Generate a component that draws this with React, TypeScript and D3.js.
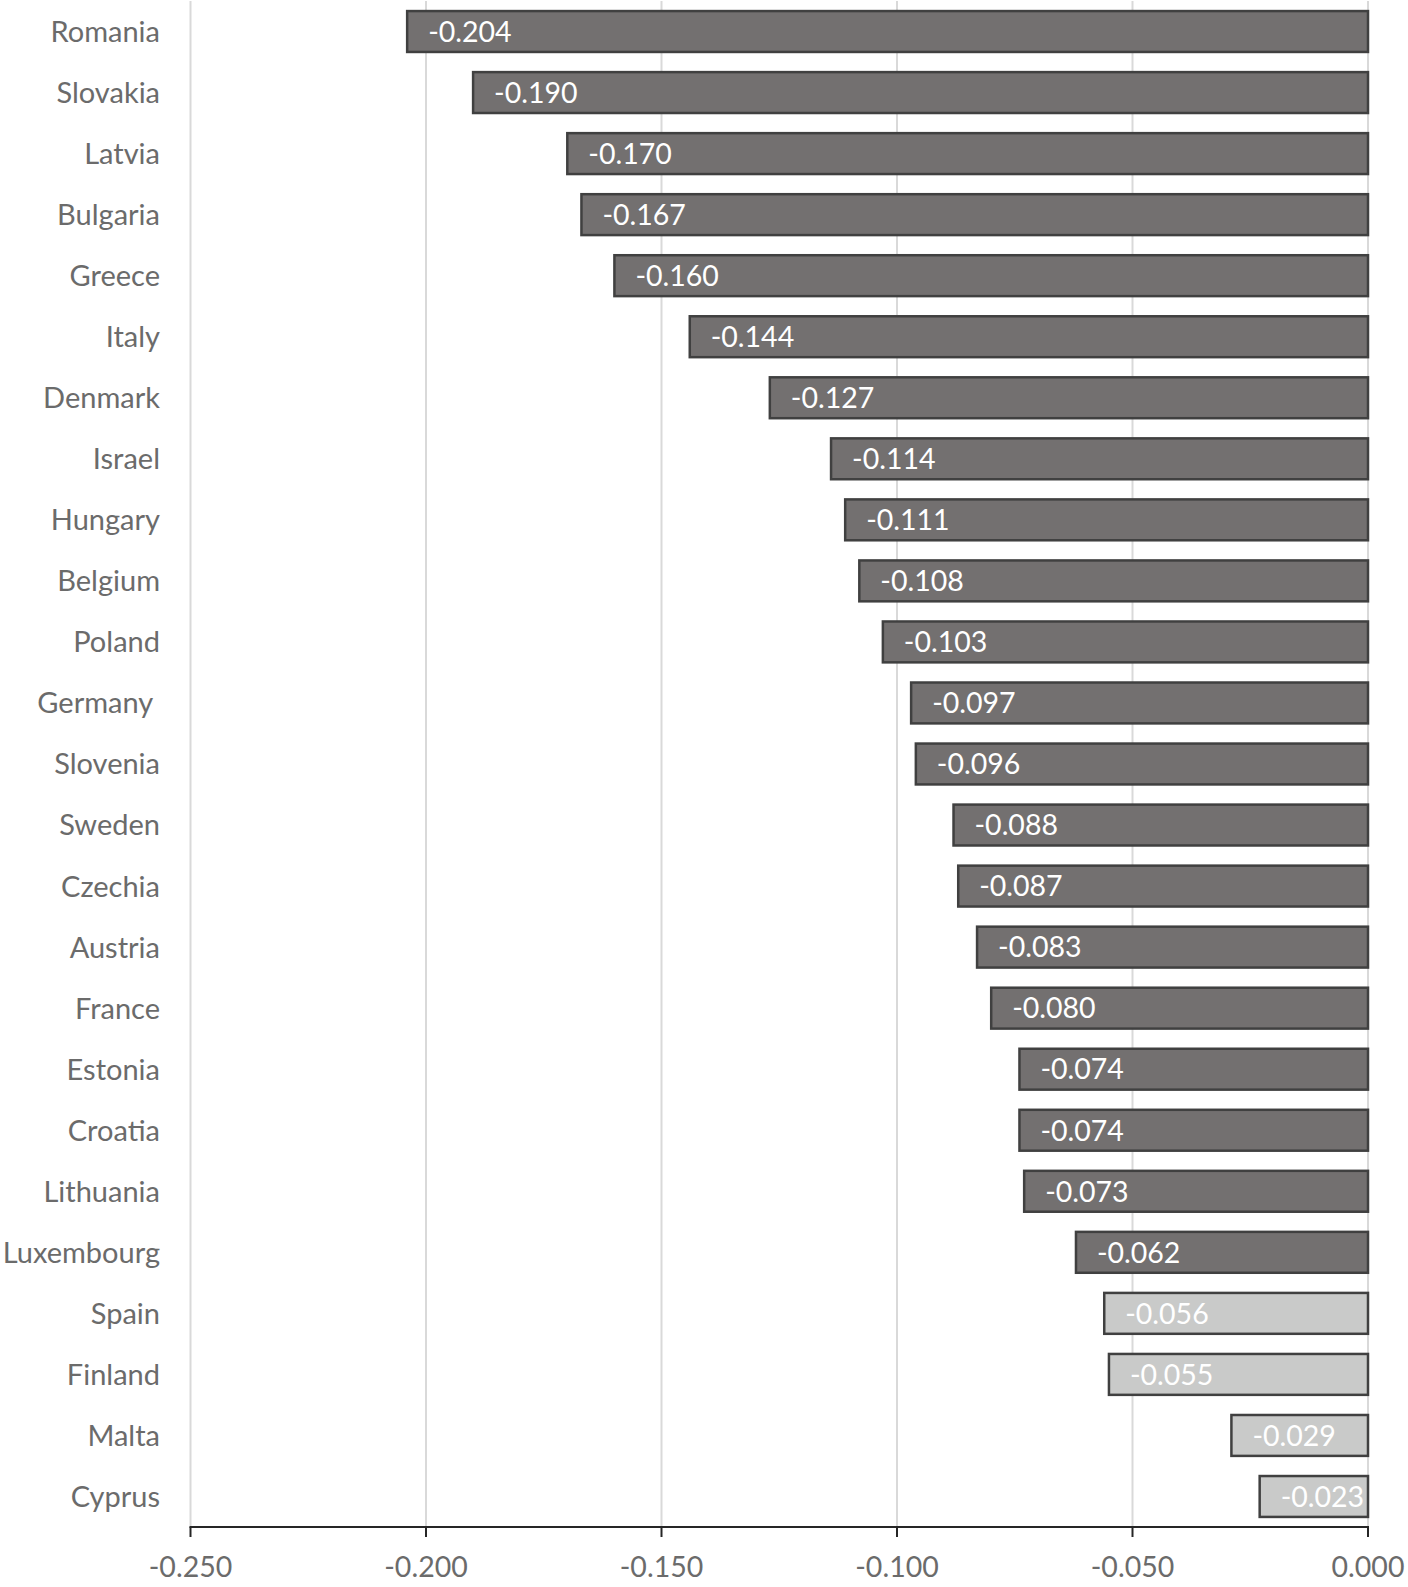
import React, { useEffect } from "react";
import * as d3 from "d3";

const countries = [
  "Romania", "Slovakia", "Latvia", "Bulgaria", "Greece", "Italy", "Denmark", "Israel",
  "Hungary", "Belgium", "Poland", "Germany ", "Slovenia", "Sweden", "Czechia", "Austria",
  "France", "Estonia", "Croatia", "Lithuania", "Luxembourg", "Spain", "Finland", "Malta", "Cyprus",
];
const values = [
  -0.204, -0.19, -0.17, -0.167, -0.16, -0.144, -0.127, -0.114, -0.111, -0.108, -0.103,
  -0.097, -0.096, -0.088, -0.087, -0.083, -0.08, -0.074, -0.074, -0.073, -0.062,
  -0.056, -0.055, -0.029, -0.023,
];
const highlighted = [
  true, true, true, true, true, true, true, true, true, true, true, true, true, true,
  true, true, true, true, true, true, true, false, false, false, false,
];
const xTicks = [-0.25, -0.2, -0.15, -0.1, -0.05, 0];

const W = 1408;
const H = 1587;
const FONT = "Lato, 'Open Sans', sans-serif";

export default function App() {
  useEffect(() => {
    document.body.style.margin = "0";
  }, []);

  const x = d3.scaleLinear().domain([-0.25, 0]).range([190.5, 1368]);
  const y = d3
    .scaleBand<string>()
    .domain(countries)
    .range([1, 1527])
    .paddingInner(0.33)
    .paddingOuter(0.165);
  const bw = y.bandwidth();
  const axisY = 1527;
  const f3 = d3.format(".3f");
  const fmt = (v: number) => f3(v).replace("\u2212", "-");

  return (
    <svg width={W} height={H} style={{ display: "block", background: "#fff" }} fontFamily={FONT}>
      <rect x={0} y={0} width={W} height={H} fill="#fff" />
      {xTicks.map((t) => (
        <line key={"g" + t} x1={x(t)} x2={x(t)} y1={1} y2={axisY} stroke="#d9d9d9" strokeWidth={2} />
      ))}
      {countries.map((c, i) => {
        const v = values[i];
        const x0 = x(v);
        const y0 = y(c)!;
        return (
          <g key={c}>
            <rect
              x={x0}
              y={y0}
              width={x(0) - x0}
              height={bw}
              fill={highlighted[i] ? "#737070" : "#c9cac9"}
              stroke="#404040"
              strokeWidth={2.5}
            />
            <text x={x0 + 21} y={y0 + bw / 2} dy="0.36em" fill="#ffffff" fontSize={28.5}>
              {fmt(v)}
            </text>
            <text
              x={160}
              y={y0 + bw / 2}
              dy="0.36em"
              textAnchor="end"
              fill="#6b6b6b"
              fontSize={29}
              style={{ whiteSpace: "pre" }}
            >
              {c}
            </text>
          </g>
        );
      })}
      <line x1={x(-0.25) - 1} x2={x(0) + 1} y1={axisY} y2={axisY} stroke="#262626" strokeWidth={2} />
      {xTicks.map((t) => (
        <g key={"t" + t}>
          <line x1={x(t)} x2={x(t)} y1={axisY} y2={axisY + 10} stroke="#262626" strokeWidth={2} />
          <text x={x(t)} y={1577} textAnchor="middle" fill="#6b6b6b" fontSize={28.5}>
            {fmt(t)}
          </text>
        </g>
      ))}
    </svg>
  );
}
